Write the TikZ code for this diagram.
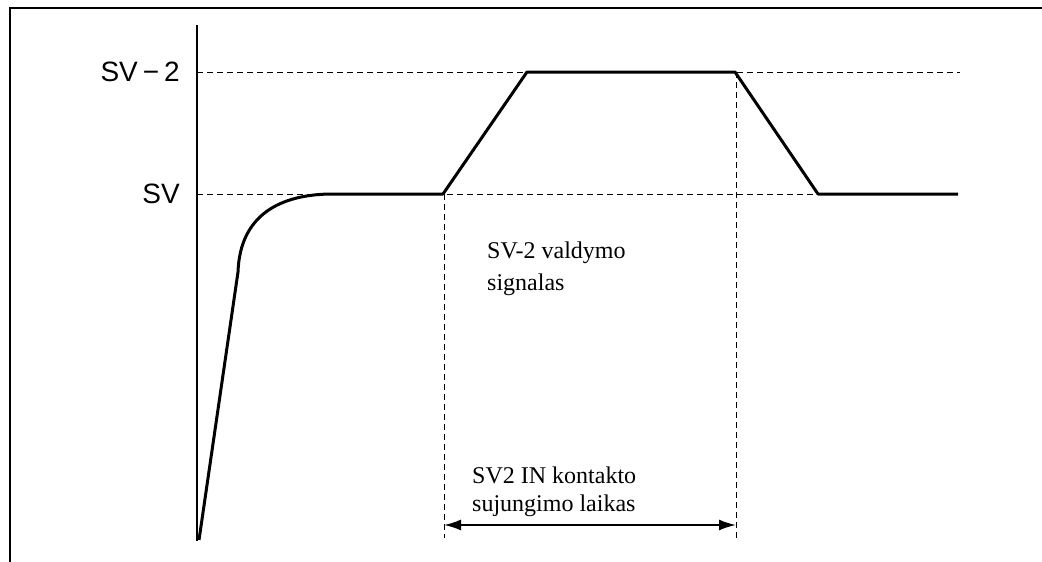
\documentclass[tikz,border=0pt]{standalone}
\usepackage{fontspec}
\setmainfont{Liberation Serif}
\newfontfamily\sflab{Liberation Sans}
\usetikzlibrary{arrows.meta}
\tikzset{
  frame/.style={line width=2.8pt},
  axisline/.style={line width=1.3pt},
  guide/.style={line width=0.9pt, dash pattern=on 6pt off 4pt},
  signal/.style={line width=3pt, line join=round},
  levellabel/.style={font=\sflab\fontsize{28}{30}\selectfont, anchor=east, inner sep=0pt},
  note/.style={align=left, anchor=base west, inner sep=0pt},
  span/.style={line width=1.8pt, {Latex[length=17pt,width=11pt]}-{Latex[length=17pt,width=11pt]}}
}
\begin{document}
\begin{tikzpicture}[x=1pt,y=-1pt]
\useasboundingbox (0,0) rectangle (1042,562);
% frame
\draw[frame] (10,570) -- (10,8) -- (1050,8);
% coordinates
\coordinate (axtop) at (197,25);
\coordinate (axbot) at (197,541);
\coordinate (svtwoL) at (197,72);
\coordinate (svtwoR) at (960,72);
\coordinate (svL) at (197,194);
\coordinate (svR) at (818,194);
\coordinate (p0) at (199,540);
\coordinate (p1) at (238,272);
\coordinate (p2) at (333,194);
\coordinate (p3) at (443,194);
\coordinate (p4) at (527,72);
\coordinate (p5) at (735,72);
\coordinate (p6) at (818,194);
\coordinate (p7) at (958,194);
\coordinate (vAtop) at (444,194);
\coordinate (vAbot) at (444,538);
\coordinate (vBtop) at (736,72);
\coordinate (vBbot) at (736,541);
\coordinate (arL) at (444,525);
\coordinate (arR) at (736,525);
% axis
\draw[axisline] (axtop) -- (axbot);
% guides
\draw[guide] (svtwoL) -- (svtwoR);
\draw[guide] (svL) -- (svR);
\draw[guide] (vAtop) -- (vAbot);
\draw[guide] (vBtop) -- (vBbot);
% signal
\draw[signal] (p0) -- (p1) .. controls (240,215) and (280,194) .. (p2) -- (p3) -- (p4) -- (p5) -- (p6) -- (p7);
% span arrow
\draw[span] (arL) -- (arR);
% labels
\node[levellabel] (lsvtwo) at (180,72) {SV\kern5pt−\kern5pt2};
\node[levellabel] (lsv) at (180,194) {SV};
\node[note, font=\fontsize{24}{32}\selectfont] (sig) at (487,290) {SV-2 valdymo\\signalas};
\node[note, font=\fontsize{24}{28}\selectfont] (cont) at (472,511) {SV2 IN kontakto\\sujungimo laikas};
\end{tikzpicture}
\end{document}
